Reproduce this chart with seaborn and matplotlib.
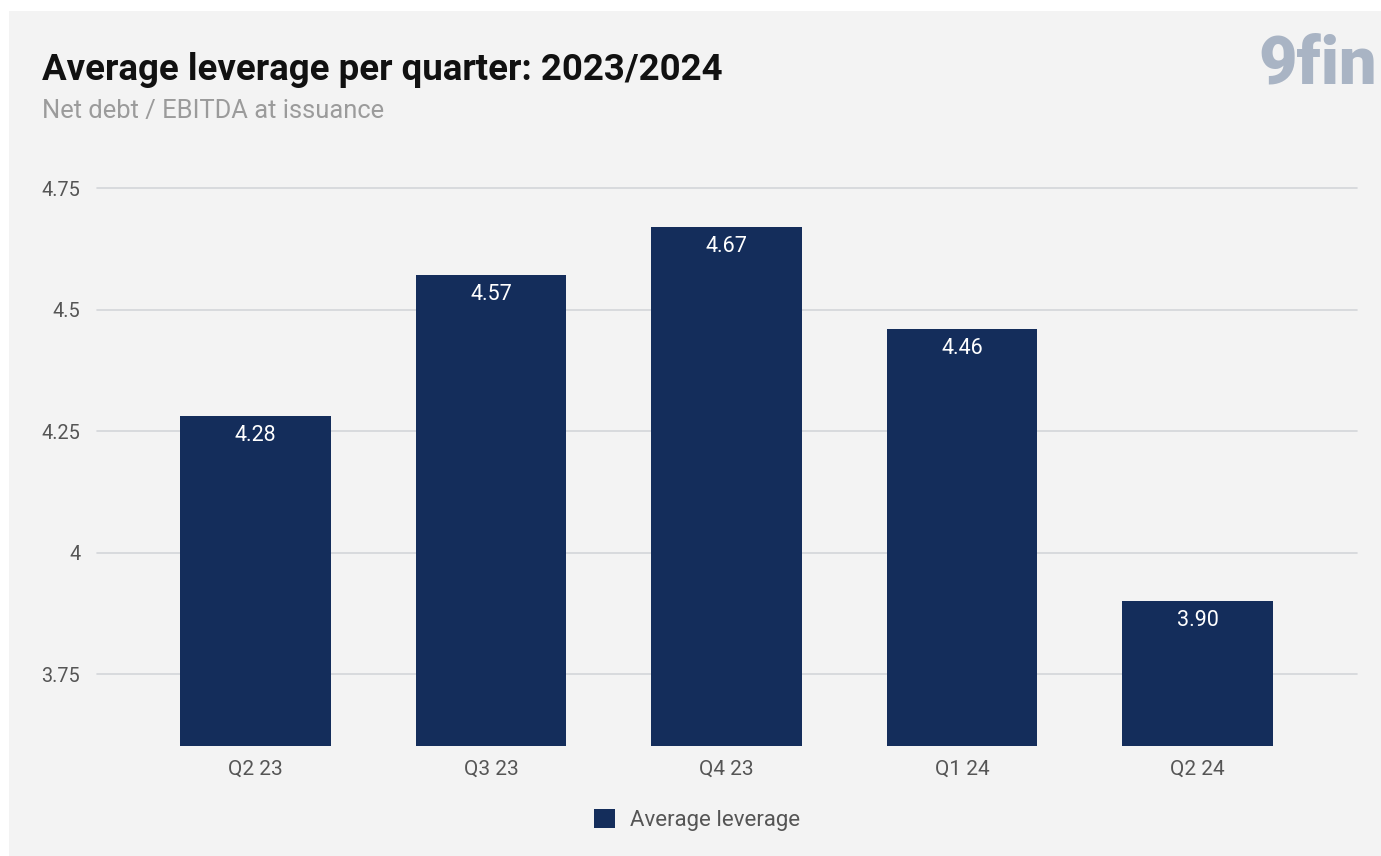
import matplotlib
matplotlib.use("Agg")
import matplotlib.pyplot as plt
import seaborn as sns
import pandas as pd
from matplotlib.patches import Rectangle

quarters = ["Q2 23", "Q3 23", "Q4 23", "Q1 24", "Q2 24"]
leverage = [4.28, 4.57, 4.67, 4.46, 3.90]
y_ticks = [3.75, 4.0, 4.25, 4.5, 4.75]
y_tick_labels = ["3.75", "4", "4.25", "4.5", "4.75"]

sns.set_theme(style="white")
plt.rcParams['font.family'] = ['Roboto', 'DejaVu Sans']

W, H = 1381, 856
bg = "#f3f3f3"
fig = plt.figure(figsize=(W / 100, H / 100), dpi=100, facecolor=bg)
fig.patches.append(Rectangle((0, (H - 11) / H), 1, 11 / H, transform=fig.transFigure,
                             facecolor="white", edgecolor="none", zorder=-5))
fig.patches.append(Rectangle((0, 0), 9 / W, 1, transform=fig.transFigure,
                             facecolor="white", edgecolor="none", zorder=-5))

ax = fig.add_axes([97 / W, (H - 746) / H, (1357 - 97) / W, (746 - 188) / H])
ax.set_facecolor(bg)
ax.patch.set_alpha(0)

df = pd.DataFrame({"quarter": quarters, "leverage": leverage})
bar_color = "#142d5b"
sns.barplot(data=df, x="quarter", y="leverage", color=bar_color, width=0.64,
            saturation=1, ax=ax, zorder=3, label="Average leverage", linewidth=0)

ax.set_ylim(3.602, 4.75)
ax.set_xlim(-0.673, 4.677)
ax.set_yticks(y_ticks)
ax.set_yticklabels(y_tick_labels)
ax.yaxis.grid(True, color="#d3d6d9", linewidth=1.2, zorder=0)
ax.set_axisbelow(True)
for s in ax.spines.values():
    s.set_visible(False)
ax.tick_params(axis="y", length=0, pad=12, labelsize=14.3, labelcolor="#555555")
ax.tick_params(axis="x", length=0, pad=10, labelsize=15, labelcolor="#555555")
ax.set_xlabel("")
ax.set_ylabel("")
for gl in ax.get_ygridlines():
    gl.set_clip_on(False)

for i, v in enumerate(leverage):
    ax.annotate(f"{v:.2f}", xy=(i, v), xytext=(0, -14), textcoords="offset points",
                ha="center", va="center", color="white", fontsize=15.5, zorder=5)

leg = ax.legend(loc="center", bbox_to_anchor=(0.505, (H - 820) / H), bbox_transform=fig.transFigure,
                frameon=False, fontsize=16, handlelength=0.93, handleheight=0.93, handletextpad=0.7,
                labelcolor="#555555")

fig.text(42 / W, (H - 80) / H, "Average leverage per quarter: 2023/2024", fontsize=26.4,
         fontweight="bold", color="#111111", ha="left", va="baseline")
fig.text(42 / W, (H - 118) / H, "Net debt / EBITDA at issuance", fontsize=18.4,
         color="#9b9b9b", ha="left", va="baseline")
fig.text(1258 / W, (H - 84) / H, "9fin", fontsize=48, fontweight="black",
         color="#a9b4c4", ha="left", va="baseline")

fig.savefig("out.png", dpi=100, facecolor=fig.get_facecolor())
